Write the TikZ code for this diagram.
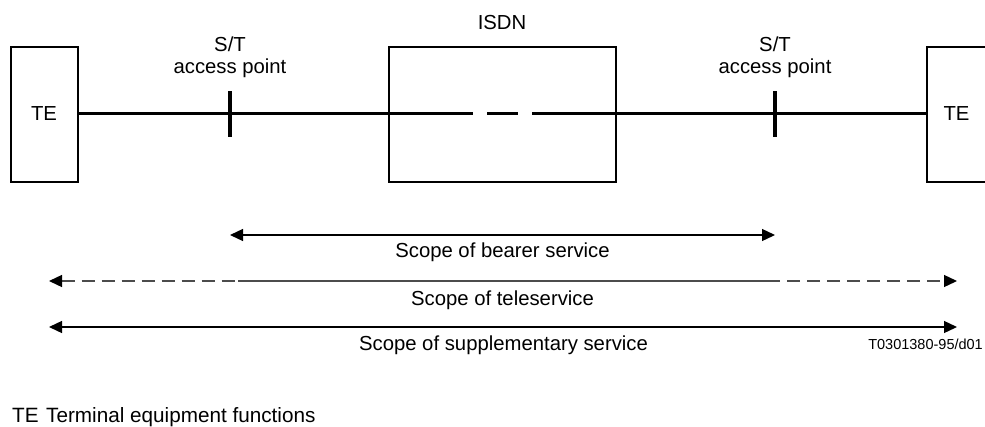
\documentclass[tikz,border=0pt]{standalone}
\usepackage{fontspec}
\setmainfont{Liberation Sans}
\usetikzlibrary{arrows.meta}
\begin{document}
\begin{tikzpicture}[x=1pt,y=-1pt,
  txt/.style={font=\fontsize{20.3}{22}\selectfont, inner sep=0pt},
  legtxt/.style={font=\fontsize{20.7}{22}\selectfont, inner sep=0pt},
  smalltxt/.style={font=\fontsize{14.5}{16}\selectfont, inner sep=0pt},
  box/.style={draw, line width=2pt, minimum height=135pt, inner sep=0pt, font=\fontsize{20.3}{22}\selectfont},
  mainline/.style={line width=3pt},
  tickline/.style={line width=4pt},
  scopearrow/.style={line width=1.3pt, {Triangle[length=13pt,width=12pt]}-{Triangle[length=13pt,width=12pt]}},
  teleline/.style={line width=1.3pt, draw=black!70},
  teledash/.style={teleline, dash pattern=on 13pt off 7pt}
]
\clip (0,0) rectangle (985,426);

% boxes
\node[box, minimum width=67pt] (teL) at (44,114) {TE};
\node[box, minimum width=67pt, text width=67pt, align=left] (teR) at (960,114) {\hspace{17pt}TE};
\node[box, minimum width=227pt] (isdn) at (502,114) {};
\node[txt, anchor=base] (isdnlbl) at (502,29) {ISDN};

% main line with break inside ISDN
\coordinate (d1) at (472.7,113.5);
\coordinate (d2) at (487,113.5);
\coordinate (d3) at (518,113.5);
\coordinate (d4) at (532,113.5);
\draw[mainline] (teL.east |- d1) -- (d1);
\draw[mainline] (d2) -- (d3);
\draw[mainline] (d4) -- (teR.west |- d4);

% S/T access points
\coordinate (stLt) at (230,91);
\coordinate (stLb) at (230,137);
\coordinate (stRt) at (775,91);
\coordinate (stRb) at (775,137);
\draw[tickline] (stLt) -- (stLb);
\draw[tickline] (stRt) -- (stRb);
\node[txt, anchor=base] (stL1) at (230,51.5) {S/T};
\node[txt, anchor=base] (stL2) at (230,73) {access point};
\node[txt, anchor=base] (stR1) at (775,51.5) {S/T};
\node[txt, anchor=base] (stR2) at (775,73) {access point};

% bearer service
\coordinate (bL) at (230,235);
\coordinate (bR) at (775,235);
\draw[scopearrow] (bL) -- (bR);
\node[txt, anchor=base] (blbl) at (502.5,257) {Scope of bearer service};

% teleservice
\coordinate (tL) at (49,281);
\coordinate (t1) at (238,281);
\coordinate (t2) at (767,281);
\coordinate (tR) at (957,281);
\draw[teledash, {Triangle[length=13pt,width=12pt,color=black]}-] (tL) -- (t1);
\draw[teleline] (t1) -- (t2);
\draw[teledash, -{Triangle[length=13pt,width=12pt,color=black]}] (t2) -- (tR);
\node[txt, anchor=base] (tlbl) at (502.5,305) {Scope of teleservice};

% supplementary service
\coordinate (sL) at (49,327);
\coordinate (sR) at (957,327);
\draw[scopearrow] (sL) -- (sR);
\node[txt, anchor=base] (slbl) at (503.5,350) {Scope of supplementary service};
\node[smalltxt, anchor=base east] (code) at (983,349) {T0301380-95/d01};

% legend
\node[legtxt, anchor=base west] (legte) at (12,422) {TE};
\node[legtxt, anchor=base west] (legdesc) at (46,422) {Terminal equipment functions};
\end{tikzpicture}
\end{document}
